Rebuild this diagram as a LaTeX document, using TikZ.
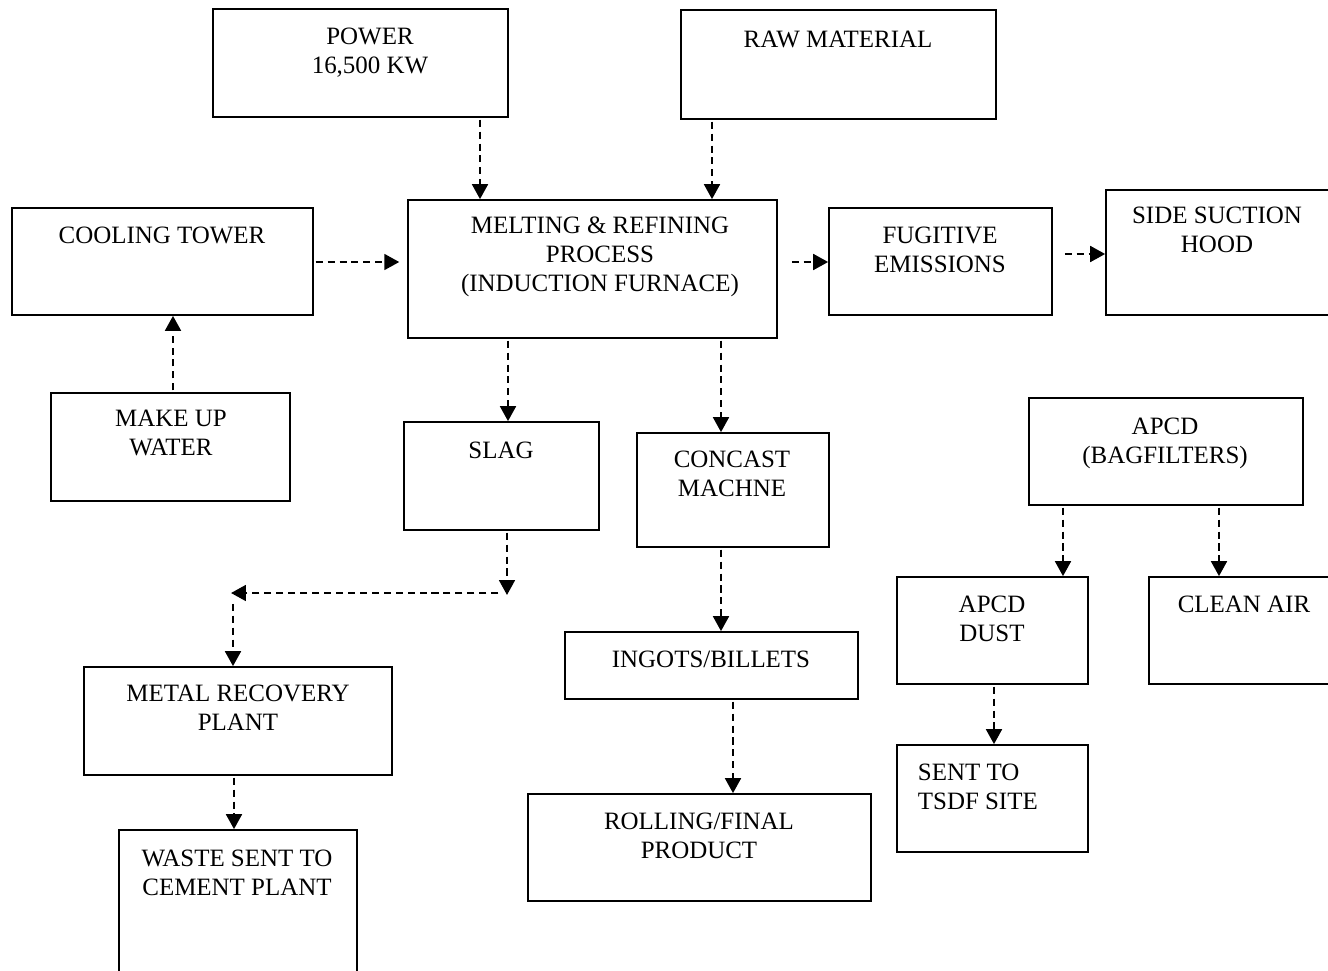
\documentclass[tikz,border=0pt]{standalone}
\usepackage{fontspec}
\setmainfont{Liberation Serif}
\usetikzlibrary{arrows.meta,positioning}

\begin{document}
\begin{tikzpicture}[x=0.02cm,y=-0.02cm,line width=1pt,
    box/.style={rectangle,draw,inner sep=0pt},
    caption/.style={anchor=north,inner sep=0pt,align=center,font=\fontsize{14.2}{16.5}\selectfont},
    flow/.style={-{Triangle[length=8.5pt,width=9pt]},dash pattern=on 4pt off 2.8pt,line width=1.3pt,shorten <=1pt}]

    \useasboundingbox (0,0) rectangle (1328,970);
    \clip (0,0) rectangle (1328,970);

    % boxes
    \node[box, minimum width=5.9cm, minimum height=2.16cm] (pow) at (360.5,63) {};
    \node[box, minimum width=6.3cm, minimum height=2.18cm] (raw) at (838.5,64.5) {};
    \node[box, minimum width=6.02cm, minimum height=2.14cm] (cool) at (162.5,261.5) {};
    \node[box, minimum width=7.38cm, minimum height=2.76cm] (melt) at (592.5,269) {};
    \node[box, minimum width=4.46cm, minimum height=2.14cm] (fug) at (940.5,261.5) {};
    \node[box, minimum width=4.88cm, minimum height=2.5cm] (hood) at (1228,252.5) {};
    \node[box, minimum width=4.78cm, minimum height=2.16cm] (make) at (170.5,447) {};
    \node[box, minimum width=3.9cm, minimum height=2.16cm] (slag) at (501.5,476) {};
    \node[box, minimum width=3.84cm, minimum height=2.28cm] (cast) at (733,490) {};
    \node[box, minimum width=5.48cm, minimum height=2.14cm] (apcd) at (1166,451.5) {};
    \node[box, minimum width=3.82cm, minimum height=2.14cm] (dust) at (992.5,630.5) {};
    \node[box, minimum width=4.02cm, minimum height=2.14cm] (clean) at (1249.5,630.5) {};
    \node[box, minimum width=6.16cm, minimum height=2.16cm] (metal) at (238,721) {};
    \node[box, minimum width=5.86cm, minimum height=1.34cm] (ingot) at (711.5,665.5) {};
    \node[box, minimum width=3.82cm, minimum height=2.14cm] (tsdf) at (992.5,798.5) {};
    \node[box, minimum width=6.86cm, minimum height=2.14cm] (roll) at (699.5,847.5) {};
    \node[box, minimum width=4.76cm, minimum height=3.4cm] (waste) at (238,915) {};

    % texts
    \node[caption] (powtxt) at (370,27) {POWER\\16,500 KW};
    \node[caption] (rawtxt) at (838,30) {RAW MATERIAL};
    \node[caption] (cooltxt) at (162,226) {COOLING TOWER};
    \node[caption] (melttxt) at (600,216) {MELTING \& REFINING\\PROCESS\\(INDUCTION FURNACE)};
    \node[caption] (fugtxt) at (940,226) {FUGITIVE\\EMISSIONS};
    \node[caption] (hoodtxt) at (1217,206) {SIDE SUCTION\\HOOD};
    \node[caption] (maketxt) at (171,409) {MAKE UP\\WATER};
    \node[caption] (slagtxt) at (501,441) {SLAG};
    \node[caption] (casttxt) at (732,450) {CONCAST\\MACHNE};
    \node[caption] (apcdtxt) at (1165,417) {APCD\\(BAGFILTERS)};
    \node[caption] (dusttxt) at (992,595) {APCD\\DUST};
    \node[caption] (cleantxt) at (1244,595) {CLEAN AIR};
    \node[caption] (metaltxt) at (238,684) {METAL RECOVERY\\PLANT};
    \node[caption] (ingottxt) at (711,650) {INGOTS/BILLETS};
    \node[caption, anchor=north west, align=left] (tsdftxt) at (917,763) {SENT TO\\TSDF SITE};
    \node[caption] (rolltxt) at (699,812) {ROLLING/FINAL\\PRODUCT};
    \node[caption] (wastetxt) at (237,849) {WASTE SENT TO\\CEMENT PLANT};

    \coordinate (bend) at (507,595);
    \coordinate (hstart) at (500,593);
    \coordinate (hend) at (231,593);
    \coordinate (vstart) at (233,602);

    % flows
    \draw[flow] (pow.south -| 480,0) -- (melt.north -| 480,0);
    \draw[flow] (raw.south -| 712,0) -- (melt.north -| 712,0);
    \draw[flow, shorten >=4.5pt] (cool.east |- 0,262) -- (melt.west |- 0,262);
    \draw[flow] (790,262) -- (fug.west |- 0,262);
    \draw[flow] (1063,254) -- (hood.west |- 0,254);
    \draw[flow] (make.north -| 173,0) -- (cool.south -| 173,0);
    \draw[flow] (melt.south -| 508,0) -- (slag.north -| 508,0);
    \draw[flow] (melt.south -| 721,0) -- (cast.north -| 721,0);
    \draw[flow] (slag.south -| bend) -- (bend);
    \draw[flow] (hstart) -- (hend);
    \draw[flow] (vstart) -- (metal.north -| vstart);
    \draw[flow] (cast.south -| 721,0) -- (ingot.north -| 721,0);
    \draw[flow] (ingot.south -| 733,0) -- (roll.north -| 733,0);
    \draw[flow] (apcd.south -| 1063,0) -- (dust.north -| 1063,0);
    \draw[flow] (apcd.south -| 1219,0) -- (clean.north -| 1219,0);
    \draw[flow] (dust.south -| 994,0) -- (tsdf.north -| 994,0);
    \draw[flow] (metal.south -| 234,0) -- (waste.north -| 234,0);
\end{tikzpicture}
\end{document}
